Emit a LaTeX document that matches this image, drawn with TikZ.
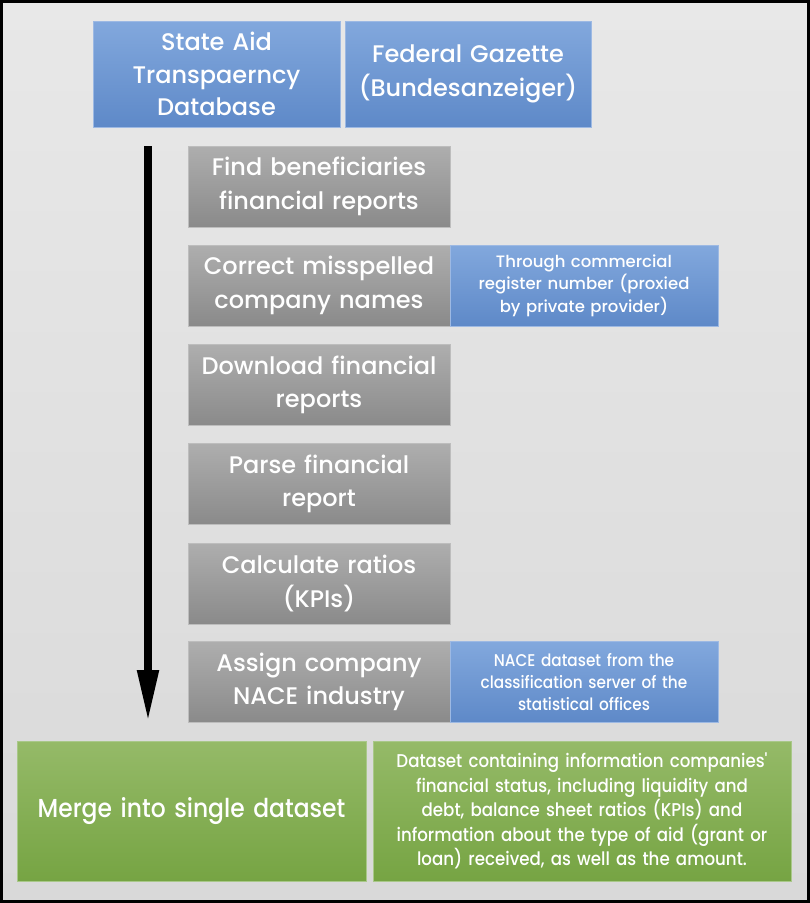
\documentclass[tikz,border=0pt]{standalone}
\usepackage{fontspec}
\setmainfont{Poppins Medium}
\newfontfamily\condfont[FakeStretch=0.9]{Poppins Medium}
\usetikzlibrary{arrows.meta}
\definecolor{bgtop}{HTML}{E8E8E8}
\definecolor{bgbot}{HTML}{D9D9D9}
\definecolor{bluetop}{HTML}{82A8DD}
\definecolor{bluebot}{HTML}{5E89C8}
\definecolor{blueedge}{HTML}{9DB9E3}
\definecolor{graytop}{HTML}{AEAEAE}
\definecolor{graybot}{HTML}{8A8A8A}
\definecolor{grayedge}{HTML}{BDBDBD}
\definecolor{greentop}{HTML}{95BA68}
\definecolor{greenbot}{HTML}{76A443}
\definecolor{greenedge}{HTML}{A9C889}
\tikzset{
  box/.style={rectangle, inner sep=2pt, align=center, text=white, line width=0.8pt},
  bluebox/.style={box, top color=bluetop, bottom color=bluebot, draw=blueedge},
  graybox/.style={box, top color=graytop, bottom color=graybot, draw=grayedge, minimum width=262pt, minimum height=81pt, text width=258pt, font=\fontsize{24}{33.5}\selectfont},
  greenbox/.style={box, top color=greentop, bottom color=greenbot, draw=greenedge, minimum height=140pt},
  bigtxt/.style={font=\fontsize{24}{32.5}\selectfont},
  smalltxt/.style={font=\fontsize{16.5}{22.5}\selectfont},
}
\begin{document}
\begin{tikzpicture}[x=1pt,y=-1pt]
\useasboundingbox (0,0) rectangle (810,903);
\shade[top color=bgtop, bottom color=bgbot] (0,0) rectangle (810,903);
\draw[line width=3pt] (1.5,1.5) rectangle (808.5,901.5);

\node[bluebox, bigtxt, minimum width=247pt, minimum height=106pt, text width=242pt] (sat) at (216.5,74) {State Aid\\Transpaerncy\\Database};
\node[bluebox, bigtxt, minimum width=246pt, minimum height=106pt, text width=242pt, font=\fontsize{24}{34}\selectfont] (fg) at (468,74) {Federal Gazette\\(Bundesanzeiger)};

\node[graybox] (find) at (319,186.5) {Find beneficiaries\\financial reports};
\node[graybox] (corr) at (319,285.5) {Correct misspelled\\company names};
\node[graybox] (down) at (319,385) {Download financial\\reports};
\node[graybox] (parse) at (319,484) {Parse financial\\report};
\node[graybox] (calc) at (319,583.5) {Calculate ratios\\(KPIs)};
\node[graybox] (assign) at (319,682) {Assign company\\NACE industry};

\node[bluebox, smalltxt, minimum width=268pt, minimum height=81pt, text width=262pt] (reg) at (584,285.5) {Through commercial\\register number (proxied\\by private provider)};
\node[bluebox, minimum width=268pt, minimum height=81pt, text width=262pt, font=\condfont\fontsize{17}{22}\selectfont] (nace) at (584,682) {NACE dataset from the\\classification server of the\\statistical offices};

\node[greenbox, minimum width=349pt, text width=340pt, font=\condfont\fontsize{26}{32}\selectfont] (merge) at (191.5,811) {Merge into single dataset};
\node[greenbox, minimum width=418pt, text width=412pt, font=\condfont\fontsize{18.5}{24.5}\selectfont] (ds) at (582,811) {Dataset containing information companies'\\financial status, including liquidity and\\debt, balance sheet ratios (KPIs) and\\information about the type of aid (grant or\\loan) received, as well as the amount.};

\coordinate (astart) at (148,146);
\coordinate (aend) at (148,722);
\draw[line width=8pt, draw=black, -{Triangle[length=52pt,width=20pt]}] (astart) -- (aend);
\end{tikzpicture}
\end{document}
